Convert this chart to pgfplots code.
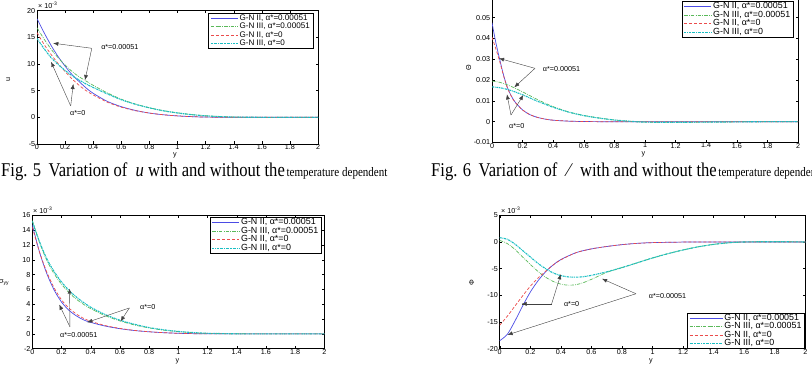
\documentclass[border=0pt]{standalone}
\usepackage{fontspec}
\setmainfont{Liberation Serif}
\setsansfont{Liberation Sans}
\usepackage{graphicx}
\usepackage{pgfplots}
\pgfplotsset{compat=1.18}
\usetikzlibrary{arrows.meta}

\definecolor{gnb}{RGB}{75,75,228}
\definecolor{gng}{RGB}{90,185,90}
\definecolor{gnr}{RGB}{235,75,75}
\definecolor{gnc}{RGB}{25,190,195}

\newcommand{\tfont}{\sffamily\fontsize{7.2}{8}\selectfont}
\newcommand{\lfont}{\sffamily\fontsize{8.1}{8.5}\selectfont}
\newcommand{\lfontb}{\sffamily\fontsize{8.9}{9}\selectfont}

\tikzset{
  arr/.style={black!75, line width=0.4pt, -{Latex[length=5pt,width=4pt]}},
  albl/.style={font=\tfont, anchor=west, inner sep=0pt},
}
\pgfplotsset{
  panel/.style={
    scale only axis, anchor=south west,
    xmin=0, xmax=2,
    xtick={0,0.2,0.4,0.6,0.8,1,1.2,1.4,1.6,1.8,2},
    xticklabels={0,0.2,0.4,0.6,0.8,1,1.2,1.4,1.6,1.8,2},
    tick align=inside, major tick length=2.5pt,
    tick style={black, line width=0.4pt},
    axis line style={black, line width=0.5pt},
    ticklabel style={font=\tfont},
    xticklabel style={inner sep=0pt, yshift=-0.3pt},
    yticklabel style={inner sep=1.6pt},
    legend cell align=left,
    legend style={font=\lfont, draw=black, line width=0.5pt, fill=white,
      inner xsep=2pt, inner ysep=0.8pt, row sep=0pt,
      nodes={inner xsep=1.2pt, inner ysep=0.4pt, text height=6pt, text depth=1.7pt}},
    legend image code/.code={\draw[##1] (0pt,0pt) -- (27pt,0pt);},
  },
  cA/.style={draw=gnb, color=gnb, solid, line width=0.7pt, smooth, mark=none},
  cB/.style={draw=gng, color=gng, line width=0.7pt, dash pattern=on 3.5pt off 1.2pt on 0.7pt off 1.2pt, smooth, mark=none},
  cC/.style={draw=gnr, color=gnr, line width=0.7pt, dash pattern=on 3pt off 2pt, smooth, mark=none},
  cD/.style={draw=gnc, color=gnc, line width=1.1pt, dash pattern=on 2pt off 0.8pt on 0.8pt off 0.8pt, smooth, mark=none},
}
\newcommand{\gnlegend}{\legend{{G-N II, α*=0.00051},{G-N III, α*=0.00051},{G-N II, α*=0},{G-N III, α*=0}}}

\begin{document}
\begin{tikzpicture}
\useasboundingbox (0pt,0pt) rectangle (812pt,366pt);
\clip (0pt,0pt) rectangle (812pt,366pt);

% ---------------- velocity u ----------------
\begin{axis}[panel, at={(37pt,222pt)}, width=281pt, height=133.3pt,
  ymin=-5, ymax=20, ytick={-5,0,5,10,15,20}, yticklabels={-5,0,5,10,15,20},
  legend style={at={(0.983,0.985)}, anchor=north east}]
\addplot[cA] coordinates {(0,18.5)(0.05,15.9)(0.1,13.5)(0.15,11.4)(0.2,9.6)(0.25,8.0)(0.3,6.7)(0.35,5.5)(0.4,4.5)(0.5,3.0)(0.6,2.0)(0.7,1.3)(0.8,0.8)(0.9,0.48)(1.0,0.27)(1.1,0.13)(1.2,0.05)(1.4,0)(1.6,0)(1.8,0)(2,0)};
\addplot[cB] coordinates {(0,16.8)(0.05,14.7)(0.1,12.8)(0.15,11.2)(0.2,9.8)(0.25,8.6)(0.3,7.6)(0.35,6.8)(0.4,6.0)(0.5,4.6)(0.6,3.4)(0.7,2.5)(0.8,1.8)(0.9,1.25)(1.0,0.85)(1.1,0.52)(1.2,0.3)(1.3,0.15)(1.4,0.06)(1.6,0)(1.8,0)(2,0)};
\addplot[cC] coordinates {(0,15.9)(0.05,13.7)(0.1,11.8)(0.15,10.1)(0.2,8.6)(0.25,7.2)(0.3,6.0)(0.35,5.0)(0.4,4.2)(0.5,2.85)(0.6,1.9)(0.7,1.25)(0.8,0.8)(0.9,0.48)(1.0,0.27)(1.1,0.13)(1.2,0.05)(1.4,0)(1.6,0)(1.8,0)(2,0)};
\addplot[cD] coordinates {(0,14.8)(0.05,12.9)(0.1,11.2)(0.15,9.9)(0.2,8.8)(0.25,7.8)(0.3,7.0)(0.35,6.25)(0.4,5.6)(0.5,4.4)(0.6,3.3)(0.7,2.45)(0.8,1.78)(0.9,1.22)(1.0,0.82)(1.1,0.5)(1.2,0.28)(1.3,0.14)(1.4,0.05)(1.6,0)(1.8,0)(2,0)};
\gnlegend
\draw[arr] (axis cs:0.39,12.95) -- (axis cs:0.116,13.9);
\draw[arr] (axis cs:0.39,12.95) -- (axis cs:0.342,7.0);
\node[albl] at (axis cs:0.456,13.25) {α*=0.00051};
\draw[arr] (axis cs:0.24,2.13) -- (axis cs:0.1,10.4);
\draw[arr] (axis cs:0.24,2.13) -- (axis cs:0.258,6.25);
\node[albl] at (axis cs:0.235,0.87) {α*=0};
\end{axis}

% ---------------- temperature Theta ----------------
\begin{axis}[panel, at={(492pt,223.5pt)}, width=306pt, height=145.8pt,
  ymin=-0.01, ymax=0.06, ytick={-0.01,0,0.01,0.02,0.03,0.04,0.05},
  yticklabels={-0.01,0,0.01,0.02,0.03,0.04,0.05},
  legend style={font=\lfontb, at={(0.986,0.721)}, anchor=south east}]
\addplot[cA] coordinates {(0,0.0475)(0.025,0.038)(0.05,0.030)(0.075,0.0225)(0.1,0.0165)(0.125,0.0125)(0.15,0.0095)(0.2,0.0056)(0.25,0.0033)(0.3,0.0020)(0.35,0.0012)(0.4,0.0007)(0.5,0.00025)(0.6,0.00008)(0.7,0)(0.8,0)(1,0)(1.2,0)(1.4,0)(1.6,0)(1.8,0)(2,0)};
\addplot[cB] coordinates {(0,0.0195)(0.05,0.0189)(0.1,0.0177)(0.15,0.0161)(0.2,0.0143)(0.25,0.0124)(0.3,0.0105)(0.35,0.0088)(0.4,0.0072)(0.5,0.0047)(0.6,0.0030)(0.7,0.0018)(0.8,0.0008)(0.9,0.0002)(1.0,-0.0002)(1.2,-0.0003)(1.4,-0.0002)(1.6,-0.0001)(1.8,0)(2,0)};
\addplot[cC] coordinates {(0,0.0405)(0.025,0.035)(0.05,0.029)(0.075,0.0222)(0.1,0.0164)(0.125,0.0124)(0.15,0.0094)(0.2,0.0056)(0.25,0.0033)(0.3,0.0020)(0.35,0.0012)(0.4,0.0007)(0.5,0.00025)(0.6,0.00008)(0.7,0)(0.8,0)(1,0)(1.2,0)(1.4,0)(1.6,0)(1.8,0)(2,0)};
\addplot[cD] coordinates {(0,0.0167)(0.05,0.0163)(0.1,0.0155)(0.15,0.0143)(0.2,0.0129)(0.25,0.0113)(0.3,0.0097)(0.35,0.0083)(0.4,0.0069)(0.5,0.0046)(0.6,0.0029)(0.7,0.0017)(0.8,0.0008)(0.9,0.0002)(1.0,-0.0002)(1.2,-0.0003)(1.4,-0.0002)(1.6,-0.0001)(1.8,0)(2,0)};
\gnlegend
\draw[arr] (axis cs:0.281,0.0256) -- (axis cs:0.046,0.0304);
\draw[arr] (axis cs:0.281,0.0256) -- (axis cs:0.146,0.0165);
\node[albl] at (axis cs:0.331,0.0251) {α*=0.00051};
\draw[arr] (axis cs:0.124,0.0032) -- (axis cs:0.098,0.0131);
\draw[arr] (axis cs:0.124,0.0032) -- (axis cs:0.205,0.0128);
\node[albl] at (axis cs:0.111,-0.0021) {α*=0};
\end{axis}

% ---------------- stress sigma_yy ----------------
\begin{axis}[panel, at={(32.3pt,17.3pt)}, width=292pt, height=133.4pt,
  ymin=-2, ymax=16, ytick={-2,0,2,4,6,8,10,12,14,16}, yticklabels={-2,0,2,4,6,8,10,12,14,16},
  legend style={font=\lfontb, at={(0.991,0.985)}, anchor=north east}]
\addplot[cA] coordinates {(0,14.7)(0.05,11.0)(0.1,8.1)(0.15,5.9)(0.2,4.3)(0.25,3.2)(0.3,2.45)(0.35,1.9)(0.4,1.55)(0.5,1.05)(0.6,0.7)(0.7,0.45)(0.8,0.28)(0.9,0.16)(1.0,0.08)(1.1,0.03)(1.2,0.01)(1.4,0)(1.6,0)(1.8,0)(2,0)};
\addplot[cB] coordinates {(0,15.3)(0.05,12.3)(0.1,9.9)(0.15,8.1)(0.2,6.7)(0.25,5.6)(0.3,4.7)(0.35,4.0)(0.4,3.4)(0.5,2.45)(0.6,1.75)(0.7,1.2)(0.8,0.8)(0.9,0.5)(1.0,0.3)(1.1,0.16)(1.2,0.07)(1.4,0.01)(1.6,0)(1.8,0)(2,0)};
\addplot[cC] coordinates {(0,14.4)(0.05,11.0)(0.1,8.3)(0.15,6.2)(0.2,4.6)(0.25,3.5)(0.3,2.7)(0.35,2.1)(0.4,1.7)(0.5,1.12)(0.6,0.74)(0.7,0.47)(0.8,0.29)(0.9,0.16)(1.0,0.08)(1.1,0.03)(1.2,0.01)(1.4,0)(1.6,0)(1.8,0)(2,0)};
\addplot[cD] coordinates {(0,15.2)(0.05,12.4)(0.1,10.1)(0.15,8.4)(0.2,7.0)(0.25,5.9)(0.3,5.0)(0.35,4.25)(0.4,3.6)(0.5,2.6)(0.6,1.85)(0.7,1.3)(0.8,0.85)(0.9,0.55)(1.0,0.33)(1.1,0.18)(1.2,0.08)(1.4,0.01)(1.6,0)(1.8,0)(2,0)};
\gnlegend
\draw[arr] (axis cs:0.665,3.5) -- (axis cs:0.377,1.56);
\draw[arr] (axis cs:0.665,3.5) -- (axis cs:0.605,1.7);
\node[albl] at (axis cs:0.738,3.63) {α*=0};
\draw[arr] (axis cs:0.258,0.93) -- (axis cs:0.185,3.94);
\draw[arr] (axis cs:0.258,0.93) -- (axis cs:0.255,6.1);
\node[albl] at (axis cs:0.19,-0.15) {α*=0.00051};
\end{axis}

% ---------------- Phi ----------------
\begin{axis}[panel, at={(499.7pt,17.3pt)}, width=305.6pt, height=133.4pt,
  ymin=-20, ymax=5, ytick={-20,-15,-10,-5,0,5}, yticklabels={-20,-15,-10,-5,0,5},
  legend image code/.code={\draw[#1] (0pt,0pt) -- (33pt,0pt);},
  legend style={font=\lfontb, at={(0.999,0.0)}, anchor=south east}]
\addplot[cA] coordinates {(0,-18.5)(0.05,-17.3)(0.1,-14.8)(0.15,-12.0)(0.2,-9.4)(0.25,-7.3)(0.3,-5.6)(0.35,-4.3)(0.4,-3.3)(0.5,-2.0)(0.6,-1.3)(0.7,-0.85)(0.8,-0.5)(0.9,-0.26)(1.0,-0.12)(1.2,-0.02)(1.4,0)(1.6,0)(1.8,0)(2,0)};
\addplot[cB] coordinates {(0,0.3)(0.05,-0.3)(0.1,-1.4)(0.15,-2.8)(0.2,-4.2)(0.25,-5.5)(0.3,-6.6)(0.35,-7.4)(0.4,-7.9)(0.45,-8.1)(0.5,-8.0)(0.55,-7.6)(0.6,-7.0)(0.65,-6.35)(0.7,-5.7)(0.8,-4.8)(0.9,-3.9)(1.0,-3.0)(1.1,-2.2)(1.2,-1.5)(1.3,-0.9)(1.4,-0.45)(1.5,-0.15)(1.6,0)(1.8,0.05)(2,0)};
\addplot[cC] coordinates {(0,-15.6)(0.05,-13.9)(0.1,-12.0)(0.15,-10.1)(0.2,-8.3)(0.25,-6.8)(0.3,-5.5)(0.35,-4.3)(0.4,-3.35)(0.5,-2.0)(0.6,-1.3)(0.7,-0.85)(0.8,-0.5)(0.9,-0.26)(1.0,-0.12)(1.2,-0.02)(1.4,0)(1.6,0)(1.8,0)(2,0)};
\addplot[cD] coordinates {(0,0.8)(0.05,0.5)(0.1,-0.4)(0.15,-1.6)(0.2,-2.8)(0.25,-4.0)(0.3,-5.0)(0.35,-5.8)(0.4,-6.3)(0.45,-6.55)(0.5,-6.6)(0.55,-6.5)(0.6,-6.25)(0.7,-5.6)(0.8,-4.8)(0.9,-3.9)(1.0,-3.0)(1.1,-2.2)(1.2,-1.5)(1.3,-0.9)(1.4,-0.45)(1.5,-0.15)(1.6,0)(1.8,0.05)(2,0)};
\gnlegend
\draw[black!75, line width=0.4pt] (axis cs:0.34,-11.6) -- (axis cs:0.144,-11.6);
\draw[arr] (axis cs:0.20,-11.6) -- (axis cs:0.144,-11.6);
\draw[arr] (axis cs:0.34,-11.6) -- (axis cs:0.4,-6.05);
\node[albl] at (axis cs:0.42,-11.6) {α*=0};
\draw[arr] (axis cs:0.892,-9.7) -- (axis cs:0.67,-6.9);
\draw[arr] (axis cs:0.892,-9.7) -- (axis cs:0.052,-17.4);
\node[albl] at (axis cs:0.975,-10.06) {α*=0.00051};
\end{axis}

% axis titles and multipliers
\node[font=\tfont, anchor=west, inner sep=0pt] at (38pt,361pt) {× 10\textsuperscript{-3}};
\node[font=\tfont, anchor=west, inner sep=0pt] at (33pt,155.3pt) {× 10\textsuperscript{-3}};
\node[font=\tfont, anchor=west, inner sep=0pt] at (501pt,155.3pt) {× 10\textsuperscript{-3}};
\node[font=\tfont, inner sep=0pt] at (175pt,210.5pt) {y};
\node[font=\tfont, inner sep=0pt] at (643.3pt,211.5pt) {y};
\node[font=\tfont, inner sep=0pt] at (177.3pt,5pt) {y};
\node[font=\tfont, inner sep=0pt] at (651pt,5pt) {y};
\node[font=\tfont, inner sep=0pt, rotate=90] at (8.3pt,286pt) {u};
\node[font=\tfont, inner sep=0pt, rotate=90] at (468.7pt,298.3pt) {Θ};
\node[font=\tfont, inner sep=0pt, anchor=west] at (-1pt,83pt) {σ\textsubscript{yy}};
\node[font=\tfont, inner sep=0pt, rotate=90] at (471.7pt,83pt) {Φ};

% figure captions
\node[anchor=base west, inner sep=0pt] at (1pt,189.3pt) {\scalebox{0.85}[1]{\fontsize{19.5}{20}\selectfont Fig. 5\hspace{0.45em}Variation of\hspace{0.5em}\textit{u} with and without the\hspace{0.1em}\fontsize{13}{14}\selectfont temperature dependent}};
\node[anchor=base west, inner sep=0pt] at (431pt,189.3pt) {\scalebox{0.85}[1]{\fontsize{19.5}{20}\selectfont Fig. 6\hspace{0.45em}Variation of\hspace{0.6em}⁄\hspace{0.6em}with and without the\hspace{0.1em}\fontsize{13}{14}\selectfont temperature dependent}};
\end{tikzpicture}
\end{document}
